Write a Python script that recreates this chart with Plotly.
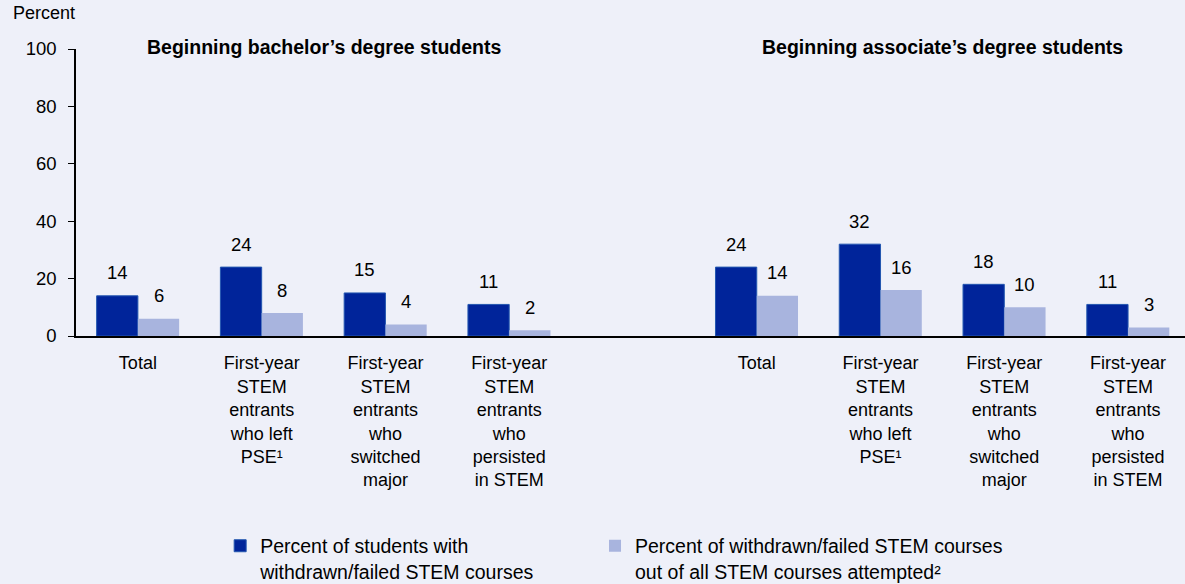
import plotly.graph_objects as go

# Categories for each panel
bachelor_labels = [
    "Total",
    "First-year<br>STEM<br>entrants<br>who left<br>PSE¹",
    "First-year<br>STEM<br>entrants<br>who<br>switched<br>major",
    "First-year<br>STEM<br>entrants<br>who<br>persisted<br>in STEM",
]
associate_labels = list(bachelor_labels)

# Series values (percent)
bachelor_students = [14, 24, 15, 11]
bachelor_courses = [6, 8, 4, 2]
associate_students = [24, 32, 18, 11]
associate_courses = [14, 16, 10, 3]

group_titles = [
    "Beginning bachelor’s degree students",
    "Beginning associate’s degree students",
]
series_names = [
    "Percent of students with<br>withdrawn/failed STEM courses",
    "Percent of withdrawn/failed STEM courses<br>out of all STEM courses attempted²",
]
y_ticks = [0, 20, 40, 60, 80, 100]

DARK = "#00249A"
LIGHT = "#A8B4DE"
BG = "#EEF0F9"
FONT = "Arial, Liberation Sans, sans-serif"

# slot positions: bachelor 0-3, empty slot 4, associate 5-8
bachelor_x = list(range(len(bachelor_labels)))
associate_x = [len(bachelor_labels) + 1 + i for i in range(len(associate_labels))]
x_pos = bachelor_x + associate_x
tick_text = bachelor_labels + associate_labels
students = bachelor_students + associate_students
courses = bachelor_courses + associate_courses

fig = go.Figure()
fig.add_trace(
    go.Bar(
        x=x_pos,
        y=students,
        name=series_names[0],
        width=1 / 3,
        offset=-1 / 3,
        marker={"color": DARK, "line": {"color": "#2357B0", "width": 1}},
        hoverinfo="skip",
        legend="legend",
    )
)
fig.add_trace(
    go.Bar(
        x=x_pos,
        y=courses,
        name=series_names[1],
        width=1 / 3,
        offset=0,
        marker={"color": LIGHT, "line": {"width": 0}},
        hoverinfo="skip",
        legend="legend2",
    )
)

annotations = []
for xs, vals, shift in ((x_pos, students, -1 / 6), (x_pos, courses, 1 / 6)):
    for x, v in zip(xs, vals):
        annotations.append(
            dict(
                x=x + shift, y=v, xref="x", yref="y", text=str(v),
                showarrow=False, yanchor="middle", yshift=23,
                font={"size": 18.5, "color": "black", "family": FONT},
            )
        )

centers = [
    sum(bachelor_x) / len(bachelor_x),
    sum(associate_x) / len(associate_x),
]
for cx, title in zip(centers, group_titles):
    annotations.append(
        dict(
            x=cx, y=100, xref="x", yref="y", text=f"<b>{title}</b>",
            showarrow=False, yanchor="middle", yshift=2,
            font={"size": 19.5, "color": "black", "family": FONT},
        )
    )

annotations.append(
    dict(
        x=-0.0586, y=1.125, xref="paper", yref="paper", text="Percent",
        showarrow=False, xanchor="left", yanchor="middle",
        font={"size": 18, "color": "black", "family": FONT},
    )
)

legend_style = {
    "orientation": "h",
    "xanchor": "left",
    "yanchor": "top",
    "valign": "top",
    "font": {"size": 19.5, "family": FONT, "color": "black"},
    "bgcolor": "rgba(0,0,0,0)",
}

fig.update_layout(
    width=1185,
    height=584,
    margin={"l": 76, "r": 0, "t": 49, "b": 248, "autoexpand": False},
    paper_bgcolor=BG,
    plot_bgcolor=BG,
    font={"family": FONT, "size": 18, "color": "black"},
    showlegend=True,
    legend=dict(legend_style, x=0.13, y=-0.664),
    legend2=dict(legend_style, x=0.468, y=-0.664),
    annotations=annotations,
    xaxis={
        "range": [-0.5, 8.46],
        "tickvals": x_pos,
        "ticktext": tick_text,
        "showgrid": False,
        "zeroline": False,
        "showline": True,
        "linecolor": "black",
        "linewidth": 1.5,
        "ticks": "",
        "ticklabelstandoff": 10,
        "tickfont": {"size": 18, "family": FONT},
        "fixedrange": True,
    },
    yaxis={
        "range": [0, 100],
        "tickvals": y_ticks,
        "showgrid": False,
        "zeroline": False,
        "showline": True,
        "linecolor": "black",
        "linewidth": 1.5,
        "ticks": "outside",
        "ticklen": 6,
        "tickcolor": "black",
        "ticklabelstandoff": 8,
        "tickfont": {"size": 18.5, "family": FONT},
        "fixedrange": True,
    },
)

fig.write_html(
    "out.html",
    config={"displayModeBar": False},
    post_script="document.body.style.margin='0';document.body.style.overflow='hidden';",
)
